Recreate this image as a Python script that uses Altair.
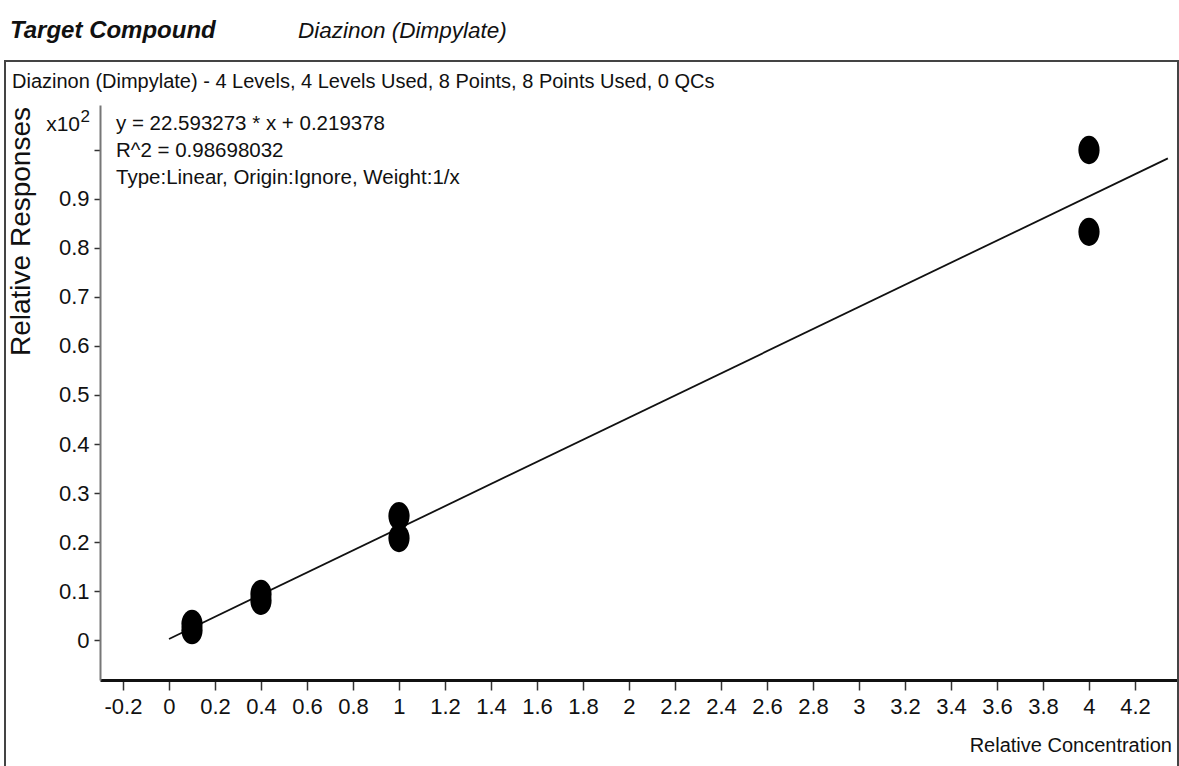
import altair as alt
import pandas as pd

# ---- data ----
conc = [0.1, 0.1, 0.4, 0.4, 1.0, 1.0, 4.0, 4.0]
resp = [0.033, 0.020, 0.094, 0.080, 0.253, 0.208, 1.000, 0.833]
fit_x = [0.0, 4.343]
fit_y = [0.0022, 0.983]
x_ticks = [-0.2, 0, 0.2, 0.4, 0.6, 0.8, 1.0, 1.2, 1.4, 1.6, 1.8, 2.0, 2.2, 2.4,
           2.6, 2.8, 3.0, 3.2, 3.4, 3.6, 3.8, 4.0, 4.2]
y_ticks = [0, 0.1, 0.2, 0.3, 0.4, 0.5, 0.6, 0.7, 0.8, 0.9, 1.0]
eq_lines = ["y = 22.593273 * x  + 0.219378", "R^2 = 0.98698032",
            "Type:Linear, Origin:Ignore, Weight:1/x"]
header = "Diazinon (Dimpylate) - 4 Levels, 4 Levels Used, 8 Points, 8 Points Used, 0 QCs"

FONT = "Liberation Sans Narrow, Arial Narrow, Liberation Sans, Arial, sans-serif"
W, H = 1078, 575

pts = pd.DataFrame({"conc": conc, "resp": resp})
fit = pd.DataFrame({"conc": fit_x, "resp": fit_y})
one = pd.DataFrame({"k": [0]})

xs = alt.Scale(domain=[-0.3, 4.387], nice=False, zero=False)
ys = alt.Scale(domain=[-0.0816, 1.0918], nice=False, zero=False)

xaxis = alt.Axis(values=x_ticks, title=None, grid=False,
                 labelExpr="datum.value < 0 ? '-' + format(-datum.value, '~g') : format(datum.value, '~g')",
                 domainColor="#111", domainWidth=3, tickColor="#333", tickWidth=1.5,
                 tickSize=10, labelPadding=6, labelFont=FONT, labelFontSize=22,
                 labelColor="#111", labelFlush=False, labelOverlap=False)
yaxis = alt.Axis(values=y_ticks, title=None, grid=False,
                 labelExpr="datum.value > 0.95 ? '' : format(datum.value, '~g')",
                 domainColor="#777", domainWidth=2, tickColor="#333", tickWidth=1.5,
                 tickSize=6, labelPadding=5, labelFont=FONT, labelFontSize=22,
                 labelColor="#111", labelFlush=False, labelOverlap=False)

line = alt.Chart(fit).mark_line(color="#111", strokeWidth=1.8, clip=True).encode(
    x=alt.X("conc:Q", scale=xs, axis=xaxis),
    y=alt.Y("resp:Q", scale=ys, axis=yaxis),
)

ellipse = "M0,-1 A0.75,1 0 1,1 0,1 A0.75,1 0 1,1 0,-1 Z"
points = alt.Chart(pts).mark_point(shape=ellipse, filled=True, color="black",
                                   opacity=1, size=800).encode(
    x=alt.X("conc:Q", scale=xs),
    y=alt.Y("resp:Q", scale=ys),
)

def txt(s, x, y, size=23, weight="normal", style="normal", align="left",
        angle=0, baseline="middle"):
    return alt.Chart(one).mark_text(text=s, font=FONT, fontSize=size,
                                    fontWeight=weight, fontStyle=style,
                                    align=align, baseline=baseline, angle=angle,
                                    color="#111").encode(
        x=alt.value(x), y=alt.value(y))

box = alt.Chart(one).mark_rect(fill=None, stroke="#444", strokeWidth=2).encode(
    x=alt.value(-95), x2=alt.value(W), y=alt.value(-44), y2=alt.value(680))

layers = [box, line, points,
          txt("Target Compound", -90, -74, size=24, weight="bold", style="italic"),
          txt("Diazinon (Dimpylate)", 198, -74, size=22.5, style="italic"),
          txt(header, -88, -23, size=20),
          txt(eq_lines[0], 16, 19, size=20.5),
          txt(eq_lines[1], 16, 46, size=20.5),
          txt(eq_lines[2], 16, 73, size=20.5),
          txt("x10", -20, 20, size=21, align="right"),
          txt("2", -10, 12, size=17, align="right"),
          txt("Relative Responses", -78, 251, size=28, angle=270),
          txt("Relative Concentration", W - 6, 641, size=20, align="right"),
          ]

chart = alt.layer(*layers).properties(
    width=W, height=H,
    autosize=alt.AutoSizeParams(type="none"),
    padding={"left": 100, "top": 105, "right": 1, "bottom": 86},
    background="white",
).configure_view(stroke=None)

chart.save("out.html", embed_options={"renderer": "svg", "actions": False})
